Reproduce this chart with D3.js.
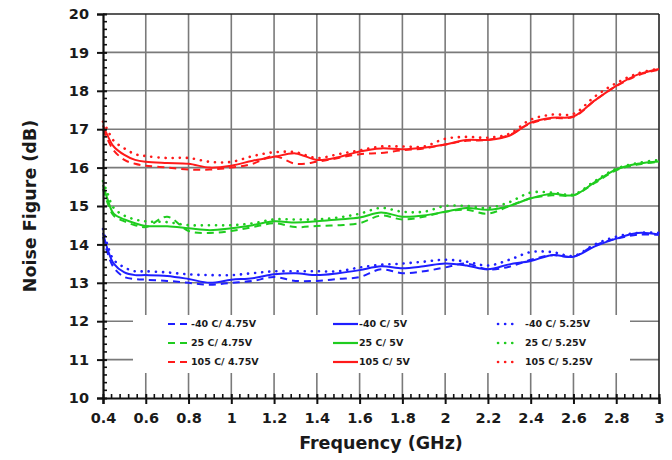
<!DOCTYPE html>
<html><head><meta charset="utf-8">
<script src="https://cdn.jsdelivr.net/npm/d3@7"></script>
<style>body{margin:0;background:#fff}svg{display:block}</style>
</head><body>
<svg id="c" width="672" height="460"></svg>
<script>
const freq = [0.4,0.42,0.45,0.5,0.55,0.6,0.7,0.8,0.9,1.0,1.1,1.2,1.3,1.4,1.5,1.6,1.7,1.8,1.9,2.0,2.1,2.2,2.3,2.4,2.5,2.6,2.7,2.8,2.9,3.0];

const blue475 = [14.2,13.8,13.4,13.15,13.1,13.08,13.05,13.0,12.95,13.0,13.05,13.15,13.05,13.05,13.1,13.15,13.35,13.25,13.3,13.4,13.5,13.35,13.42,13.6,13.72,13.68,13.98,14.15,14.25,14.25];
const blue5   = [14.3,13.9,13.5,13.27,13.2,13.2,13.18,13.1,13.0,13.08,13.12,13.22,13.25,13.2,13.25,13.33,13.43,13.38,13.43,13.5,13.45,13.35,13.48,13.57,13.72,13.68,13.95,14.15,14.3,14.26];
const blue525 = [14.4,14.0,13.6,13.4,13.3,13.3,13.27,13.22,13.2,13.2,13.25,13.3,13.3,13.3,13.3,13.4,13.47,13.5,13.55,13.6,13.55,13.45,13.6,13.8,13.8,13.7,14.0,14.2,14.3,14.3];

const green475 = [15.45,15.1,14.75,14.6,14.5,14.45,14.72,14.35,14.3,14.35,14.45,14.55,14.45,14.48,14.5,14.55,14.75,14.65,14.72,14.85,14.9,14.8,15.0,15.2,15.28,15.28,15.6,15.93,16.08,16.15];
const green5   = [15.55,15.2,14.8,14.65,14.55,14.48,14.47,14.42,14.37,14.42,14.5,14.6,14.57,14.6,14.65,14.7,14.83,14.72,14.75,14.85,14.95,14.9,15.0,15.2,15.32,15.28,15.62,15.95,16.1,16.16];
const green525 = [15.65,15.35,14.95,14.75,14.65,14.6,14.58,14.5,14.5,14.5,14.55,14.65,14.65,14.65,14.7,14.8,14.95,14.85,14.85,15.0,15.0,14.95,15.1,15.35,15.35,15.3,15.65,15.97,16.12,16.2];

const red475 = [17.0,16.75,16.45,16.2,16.1,16.05,16.0,15.95,15.95,16.0,16.1,16.3,16.1,16.15,16.25,16.35,16.38,16.45,16.5,16.6,16.7,16.72,16.85,17.15,17.28,17.32,17.75,18.12,18.4,18.55];
const red5   = [17.1,16.85,16.55,16.33,16.2,16.15,16.12,16.1,16.0,16.05,16.18,16.28,16.37,16.2,16.27,16.42,16.5,16.48,16.52,16.6,16.72,16.72,16.83,17.17,17.3,17.33,17.75,18.13,18.42,18.57];
const red525 = [17.2,17.0,16.7,16.5,16.35,16.3,16.25,16.25,16.15,16.15,16.3,16.4,16.4,16.25,16.35,16.45,16.55,16.55,16.55,16.75,16.8,16.78,16.88,17.25,17.38,17.4,17.85,18.2,18.45,18.58];

const xTicks = [0.4,0.6,0.8,1,1.2,1.4,1.6,1.8,2,2.2,2.4,2.6,2.8,3];
const yTicks = [10,11,12,13,14,15,16,17,18,19,20];

const seriesNames = ["-40 C/ 4.75V","25 C/ 4.75V","105 C/ 4.75V","-40 C/ 5V","25 C/ 5V","105 C/ 5V","-40 C/ 5.25V","25 C/ 5.25V","105 C/ 5.25V"];
const seriesValues = [blue475,green475,red475,blue5,green5,red5,blue525,green525,red525];
const seriesColor = ["#1f1fff","#1fcc1f","#ff1a1a","#1f1fff","#1fcc1f","#ff1a1a","#1f1fff","#1fcc1f","#ff1a1a"];
const seriesStyle = ["dash","dash","dash","solid","solid","solid","dot","dot","dot"];

const svg = d3.select("#c");
const L=103, R=659, T=14, B=398;
const x = d3.scaleLinear().domain([0.4,3]).range([L,R]);
const y = d3.scaleLinear().domain([10,20]).range([B,T]);
const font = "'DejaVu Sans', Verdana, sans-serif";

// grid
const grid = svg.append("g");
grid.selectAll("line.v").data(xTicks.slice(1,-1)).enter().append("line")
  .attr("x1",d=>x(d)).attr("x2",d=>x(d)).attr("y1",T).attr("y2",B)
  .attr("stroke","#7a7a7a").attr("stroke-width",1.6);
grid.selectAll("line.h").data(yTicks.slice(1,-1)).enter().append("line")
  .attr("x1",L).attr("x2",R).attr("y1",d=>y(d)).attr("y2",d=>y(d))
  .attr("stroke","#7a7a7a").attr("stroke-width",1.6);

// legend background (covers grid)
svg.append("rect").attr("x",133).attr("y",315).attr("width",497).attr("height",58).attr("fill","#fff");

// frame
svg.append("line").attr("x1",L).attr("x2",R).attr("y1",T).attr("y2",T).attr("stroke","#222").attr("stroke-width",1.6);
svg.append("line").attr("x1",R).attr("x2",R).attr("y1",T).attr("y2",B).attr("stroke","#222").attr("stroke-width",1.6);

// series
const line = d3.line().x((d,i)=>x(freq[i])).y(d=>y(d)).curve(d3.curveCatmullRom.alpha(0.5));
const dashMap = {dash:"7 5", solid:null, dot:"0.1 7"};
const plot = svg.append("g");
[3,4,5,0,1,2,6,7,8].forEach(k=>{
  plot.append("path").datum(seriesValues[k]).attr("d",line)
    .attr("fill","none").attr("stroke",seriesColor[k])
    .attr("stroke-width", seriesStyle[k]==="dot"?2.6:2)
    .attr("stroke-linecap", seriesStyle[k]==="dot"?"round":"butt")
    .attr("stroke-dasharray",dashMap[seriesStyle[k]]);
});

// axes
const yAxis = d3.axisLeft(y).tickValues(yTicks).tickSize(6).tickPadding(8).tickFormat(d3.format("d"));
const gy = svg.append("g").attr("transform",`translate(${L},0)`).call(yAxis);
const xAxis = d3.axisBottom(x).tickValues(xTicks).tickSize(6).tickPadding(9).tickFormat(d=>d3.format("~g")(d));
const gx = svg.append("g").attr("transform",`translate(0,${B})`).call(xAxis);
[gy,gx].forEach(g=>{
  g.select(".domain").attr("stroke","#111").attr("stroke-width",2.2);
  g.selectAll(".tick line").attr("stroke","#111").attr("stroke-width",2);
  g.selectAll(".tick text").attr("font-family",font).attr("font-weight","bold").attr("font-size",14.5).attr("fill","#1a1a1a");
});
// major ticks crossing the axis
gy.selectAll(".tick line").attr("x2",-6).attr("x1",4);
gx.selectAll(".tick line").attr("y1",-4).attr("y2",6);

// minor ticks
const yMinor = d3.range(10,20.001,0.2).filter(v=>Math.abs(v-Math.round(v))>1e-6);
svg.append("g").selectAll("line").data(yMinor).enter().append("line")
  .attr("x1",L).attr("x2",L+4).attr("y1",d=>y(d)).attr("y2",d=>y(d)).attr("stroke","#111").attr("stroke-width",1.6);
const xMinor = d3.range(0.4,3.0001,0.04).filter(v=>Math.abs(v*5-Math.round(v*5))>1e-6);
svg.append("g").selectAll("line").data(xMinor).enter().append("line")
  .attr("x1",d=>x(d)).attr("x2",d=>x(d)).attr("y1",B).attr("y2",B-4).attr("stroke","#111").attr("stroke-width",1.6);

// axis titles
svg.append("text").attr("x",x(1.7)).attr("y",449).attr("text-anchor","middle")
  .attr("font-family",font).attr("font-weight","bold").attr("font-size",17.5).attr("fill","#1a1a1a").text("Frequency (GHz)");
svg.append("text").attr("transform",`translate(36,${y(15)}) rotate(-90)`).attr("text-anchor","middle")
  .attr("font-family",font).attr("font-weight","bold").attr("font-size",17.5).attr("fill","#1a1a1a").text("Noise Figure (dB)");

// legend
const colX = [168,333,498], colW=[22,25,20], rowY=[324,343,362];
const lg = svg.append("g");
seriesNames.forEach((name,k)=>{
  const c = Math.floor(k/3), r = k%3;
  const st = seriesStyle[k];
  lg.append("line").attr("x1",colX[c]).attr("x2",colX[c]+colW[c]).attr("y1",rowY[r]).attr("y2",rowY[r])
    .attr("stroke",seriesColor[k]).attr("stroke-width",st==="dot"?2.6:2.2)
    .attr("stroke-linecap",st==="dot"?"round":"butt")
    .attr("stroke-dasharray", st==="dash"?"7 5":(st==="dot"?"0.1 7":null));
  lg.append("text").attr("x",colX[c]+colW[c]+(c===2?7:1)).attr("y",rowY[r]).attr("dy","0.35em")
    .attr("font-family",font).attr("font-weight","bold").attr("font-size",9.5).attr("fill","#1a1a1a").text(name);
});
</script>
</body></html>
